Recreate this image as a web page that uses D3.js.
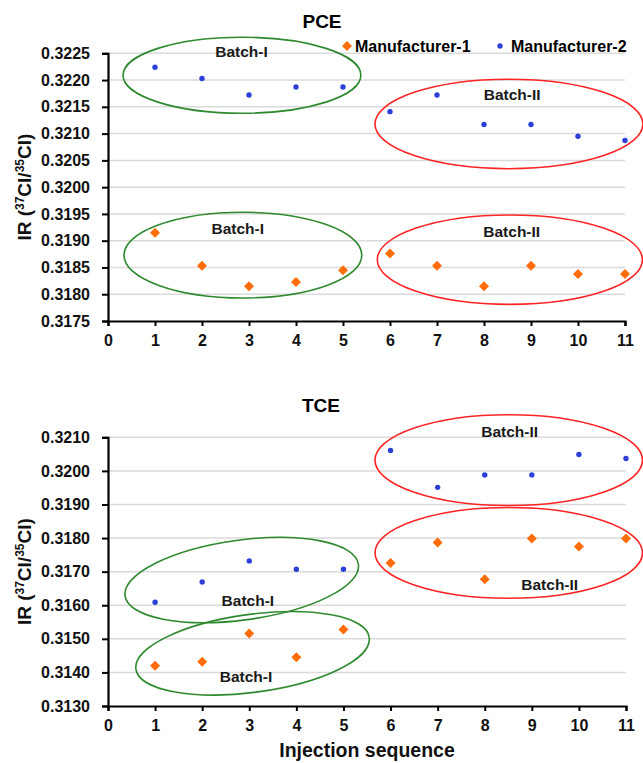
<!DOCTYPE html>
<html>
<head>
<meta charset="utf-8">
<script src="https://cdn.jsdelivr.net/npm/d3@7"></script>
<style>
  body { margin: 0; background: #fff; }
  svg { display: block; font-family: "Liberation Sans", Arial, Helvetica, sans-serif; }
</style>
</head>
<body>
<svg id="chart" width="643" height="763"></svg>
<script>
// injection number on x
const injections = [1, 2, 3, 4, 5, 6, 7, 8, 9, 10, 11];
const xTicks = [0, 1, 2, 3, 4, 5, 6, 7, 8, 9, 10, 11];

// PCE isotope ratios
const pceM1 = [0.31915, 0.31853, 0.31815, 0.31823, 0.31845, 0.31876, 0.31853, 0.31815, 0.31853, 0.31838, 0.31838];
const pceM2 = [0.32224, 0.32203, 0.32172, 0.32187, 0.32187, 0.32141, 0.32172, 0.32117, 0.32117, 0.32095, 0.32087];
const pceTicks = [0.3175, 0.318, 0.3185, 0.319, 0.3195, 0.32, 0.3205, 0.321, 0.3215, 0.322, 0.3225];

// TCE isotope ratios
const tceM1 = [0.3142, 0.31432, 0.31516, 0.31445, 0.31528, 0.31726, 0.31787, 0.31677, 0.31799, 0.31775, 0.31799];
const tceM2 = [0.31609, 0.31669, 0.31732, 0.31707, 0.31707, 0.32061, 0.31951, 0.31988, 0.31988, 0.32049, 0.32037];
const tceTicks = [0.313, 0.314, 0.315, 0.316, 0.317, 0.318, 0.319, 0.32, 0.321];

// batch rings (data units), label spot, tilt
const pceBatches = [
  { label: "Batch-I", cx: 2.85, cy: 0.32209, rx: 2.53, ry: 0.00071, angle: 0, lx: 2.84, ly: 0.32253, kind: "I" },
  { label: "Batch-I", cx: 2.87, cy: 0.31873, rx: 2.53, ry: 0.0008, angle: 0, lx: 2.76, ly: 0.31923, kind: "I" },
  { label: "Batch-II", cx: 8.53, cy: 0.32118, rx: 2.85, ry: 0.000835, angle: 0, lx: 8.6, ly: 0.32173, kind: "II" },
  { label: "Batch-II", cx: 8.55, cy: 0.318645, rx: 2.82, ry: 0.000835, angle: 0, lx: 8.59, ly: 0.31918, kind: "II" }
];
const tceBatches = [
  { label: "Batch-I", cx: 2.84, cy: 0.31675, rx: 2.5, ry: 0.00119, angle: -7.7, lx: 2.97, ly: 0.31613, kind: "I" },
  { label: "Batch-I", cx: 3.07, cy: 0.31457, rx: 2.5, ry: 0.00116, angle: -7.7, lx: 2.93, ly: 0.31388, kind: "I" },
  { label: "Batch-II", cx: 8.51, cy: 0.32032, rx: 2.84, ry: 0.00135, angle: 0, lx: 8.53, ly: 0.32117, kind: "II" },
  { label: "Batch-II", cx: 8.51, cy: 0.31756, rx: 2.84, ry: 0.00135, angle: 0, lx: 9.38, ly: 0.31663, kind: "II" }
];

const seriesNames = ["Manufacturer-1", "Manufacturer-2"];

const orange = "#ff6c0a";
const blue = "#2c40d8";
const ringColor = { I: "#2f8a2f", II: "#ff2424" };

const svg = d3.select("#chart");
svg.append("rect").attr("width", 643).attr("height", 763).attr("fill", "#fff");

function drawPanel(opts) {
  const x = d3.scaleLinear().domain([0, 11]).range([108, opts.right]);
  const y = d3.scaleLinear().domain(opts.domain).range([opts.bottom, opts.top]);
  const g = svg.append("g");

  // gridlines
  g.selectAll(".grid")
    .data(opts.ticks.slice(1))
    .enter()
    .append("line")
    .attr("x1", x(0))
    .attr("x2", x(11))
    .attr("y1", (d) => y(d))
    .attr("y2", (d) => y(d))
    .attr("stroke", "#dadada")
    .attr("stroke-width", 1.5);

  // y axis
  const yAxis = g.append("g")
    .attr("transform", `translate(${x(0)},0)`)
    .call(d3.axisLeft(y).tickValues(opts.ticks).tickFormat(d3.format(".4f")).tickSize(6).tickPadding(12));
  // x axis
  const xAxis = g.append("g")
    .attr("transform", `translate(0,${y(opts.domain[0])})`)
    .call(d3.axisBottom(x).tickValues(xTicks).tickFormat(d3.format("d")).tickSize(5).tickPadding(9));

  [yAxis, xAxis].forEach((ax) => {
    ax.select(".domain").attr("stroke", "#000").attr("stroke-width", 2.2);
    ax.selectAll(".tick line").attr("stroke", "#000").attr("stroke-width", 2);
    ax.selectAll("text")
      .attr("fill", "#111")
      .style("font-size", "16px")
      .style("font-weight", "bold");
  });

  // title
  g.append("text")
    .attr("x", opts.titleX)
    .attr("y", opts.titleY)
    .attr("text-anchor", "middle")
    .style("font-size", "19px")
    .style("font-weight", "bold")
    .text(opts.title);

  // y title
  const yt = g.append("text")
    .attr("transform", `translate(31,${(opts.top + opts.bottom) / 2}) rotate(-90)`)
    .attr("text-anchor", "middle")
    .style("font-size", "19px")
    .style("font-weight", "bold")
    .attr("fill", "#111");
  yt.append("tspan").text("IR (");
  yt.append("tspan").attr("baseline-shift", "super").style("font-size", "12px").text("37");
  yt.append("tspan").text("Cl/");
  yt.append("tspan").attr("baseline-shift", "super").style("font-size", "12px").text("35");
  yt.append("tspan").text("Cl)");

  // blue dots
  g.selectAll(".m2")
    .data(injections)
    .enter()
    .append("circle")
    .attr("cx", (d) => x(d))
    .attr("cy", (d, i) => y(opts.m2[i]))
    .attr("r", 2.7)
    .attr("fill", blue);

  // orange diamonds
  const diamond = d3.symbol().type(d3.symbolSquare).size(50);
  g.selectAll(".m1")
    .data(injections)
    .enter()
    .append("path")
    .attr("d", diamond)
    .attr("transform", (d, i) => `translate(${x(d)},${y(opts.m1[i])}) rotate(45)`)
    .attr("fill", orange);

  // batch rings
  opts.batches.forEach((b) => {
    const rxPx = x(b.cx + b.rx) - x(b.cx);
    const ryPx = y(b.cy) - y(b.cy + b.ry);
    g.append("ellipse")
      .attr("transform", `translate(${x(b.cx)},${y(b.cy)}) rotate(${b.angle})`)
      .attr("rx", rxPx)
      .attr("ry", ryPx)
      .attr("fill", "none")
      .attr("stroke", ringColor[b.kind])
      .attr("stroke-width", 1.6);
    g.append("text")
      .attr("x", x(b.lx))
      .attr("y", y(b.ly))
      .attr("dy", "0.36em")
      .attr("text-anchor", "middle")
      .style("font-size", "15.5px")
      .style("font-weight", "bold")
      .attr("fill", "#1a1a1a")
      .text(b.label);
  });
}

drawPanel({
  title: "PCE", titleX: 322, titleY: 28,
  domain: [0.3175, 0.3225], ticks: pceTicks,
  top: 53.3, bottom: 321, right: 625,
  m1: pceM1, m2: pceM2, batches: pceBatches
});

drawPanel({
  title: "TCE", titleX: 321, titleY: 412,
  domain: [0.313, 0.321], ticks: tceTicks,
  top: 437.3, bottom: 706, right: 626,
  m1: tceM1, m2: tceM2, batches: tceBatches
});

// legend
const legend = svg.append("g").attr("transform", "translate(347,46)");
legend.append("path")
  .attr("d", d3.symbol().type(d3.symbolSquare).size(50))
  .attr("transform", "rotate(45)")
  .attr("fill", orange);
legend.append("text")
  .attr("x", 8).attr("dy", "0.36em")
  .style("font-size", "16px").style("font-weight", "bold")
  .text(seriesNames[0]);
legend.append("circle").attr("cx", 153).attr("r", 2.7).attr("fill", blue);
legend.append("text")
  .attr("x", 164).attr("dy", "0.36em")
  .style("font-size", "16px").style("font-weight", "bold")
  .text(seriesNames[1]);

// x title
svg.append("text")
  .attr("x", 367)
  .attr("y", 757)
  .attr("text-anchor", "middle")
  .style("font-size", "19.5px")
  .style("font-weight", "bold")
  .attr("fill", "#111")
  .text("Injection sequence");
</script>
</body>
</html>
